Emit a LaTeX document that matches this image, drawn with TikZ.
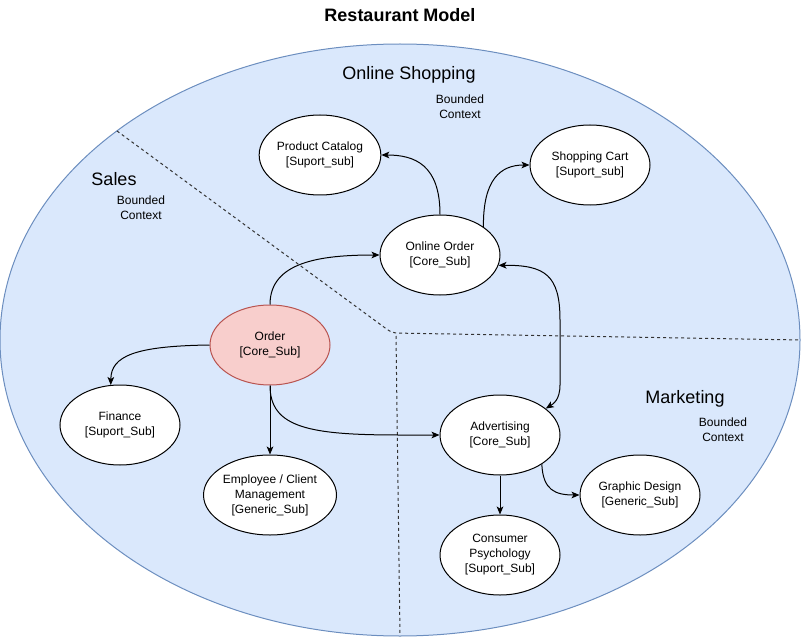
\documentclass[tikz,border=0pt]{standalone}
\usepackage{fontspec}
\setmainfont{Liberation Sans}
\usetikzlibrary{shapes.geometric,arrows.meta}
\definecolor{ctxfill}{HTML}{DAE8FC}
\definecolor{ctxline}{HTML}{6C8EBF}
\definecolor{corefill}{HTML}{F8CECC}
\definecolor{coreline}{HTML}{B85450}
\begin{document}
\begin{tikzpicture}[x=0.75pt,y=-0.75pt,
  sub/.style={ellipse, draw=black, fill=white, line width=0.75pt,
    minimum width=90pt, minimum height=60pt, inner sep=0pt, align=center,
    font=\fontsize{9}{11.25}\selectfont},
  core/.style={sub, fill=corefill, draw=coreline},
  ctx/.style={ellipse, draw=ctxline, fill=ctxfill, line width=0.75pt,
    minimum width=600pt, minimum height=444pt, inner sep=0pt},
  bigl/.style={font=\fontsize{13.5}{16}\selectfont, inner sep=0pt},
  smalll/.style={font=\fontsize{9}{11.25}\selectfont, align=center, inner sep=0pt},
  ttl/.style={font=\fontsize{13.5}{16}\selectfont\bfseries, inner sep=0pt},
  arr/.style={-{Stealth[length=6pt,width=5pt,inset=1.5pt]}, line width=0.75pt},
  biarr/.style={{Stealth[length=6pt,width=5pt,inset=1.5pt]}-{Stealth[length=6pt,width=5pt,inset=1.5pt]}, line width=0.75pt},
  sep/.style={dash pattern=on 2.25pt off 2.25pt, line width=0.75pt, draw=black!80}
]
\useasboundingbox (0,0) rectangle (803,638);

\node[ctx] (context) at (400,340) {};

% dashed separators
\draw[sep, rounded corners=4pt] (117,131) -- (392,333) -- (801,340);
\draw[sep] (396,336) -- (400,636);

% titles
\node[ttl] (title) at (400,15) {Restaurant Model};
\node[bigl] (tos) at (409,75) {Online Shopping};
\node[smalll] (tosb) at (460,107) {Bounded\\ Context};
\node[bigl] (tsa) at (114,179) {Sales};
\node[smalll] (tsab) at (141,208) {Bounded\\ Context};
\node[bigl] (tma) at (685,399) {Marketing};
\node[smalll] (tmab) at (723,430) {Bounded\\ Context};

% nodes
\node[sub] (pc) at (320,155) {Product Catalog\\{}[Suport\_sub]};
\node[sub] (sc) at (590,165) {Shopping Cart\\{}[Suport\_sub]};
\node[sub] (oo) at (440,255) {Online Order\\{}[Core\_Sub]};
\node[core] (ord) at (270,345) {Order\\{}[Core\_Sub]};
\node[sub] (fin) at (120,425) {Finance\\{}[Suport\_Sub]};
\node[sub] (emp) at (270,495) {Employee / Client\\Management\\{}[Generic\_Sub]};
\node[sub] (adv) at (500,435) {Advertising\\{}[Core\_Sub]};
\node[sub] (gd) at (640,495) {Graphic Design\\{}[Generic\_Sub]};
\node[sub] (cp) at (500,555) {Consumer\\Psychology\\{}[Suport\_Sub]};

% connectors
\draw[arr] (oo.north) .. controls (440,165) and (415,155) .. (pc.east);
\draw[arr] (oo.33) .. controls (483,180) and (500,165) .. (sc.west);
\draw[arr] (ord.north) .. controls (270,262) and (320,255) .. (oo.west);
\draw[biarr] (oo.-10) .. controls (545,265) and (560,275) .. (560,320) -- (560,385) .. controls (560,400) and (553,404) .. (adv.30);
\draw[arr] (ord.west) .. controls (135,346) and (111,356) .. (fin.103);
\draw[arr] (ord.south) -- (emp.north);
\draw[arr] (ord.south) .. controls (270,428) and (310,435) .. (400,435) -- (adv.west);
\draw[arr] (adv.south) -- (cp.north);
\draw[arr] (adv.-35) .. controls (543,490) and (555,495) .. (gd.west);
\end{tikzpicture}
\end{document}
